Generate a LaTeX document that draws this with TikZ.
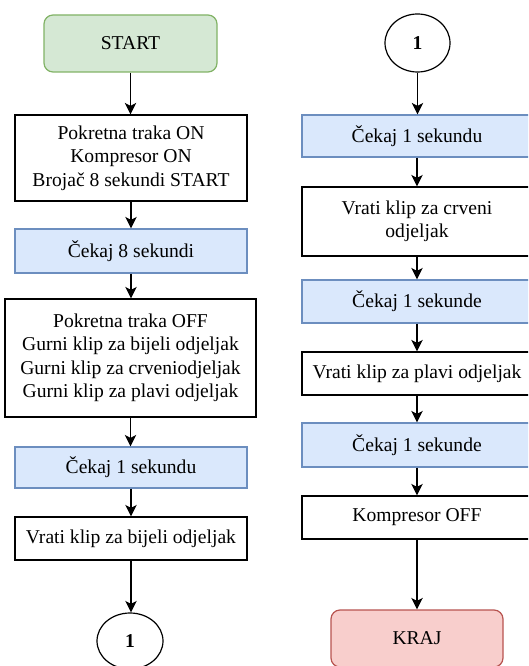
\documentclass[tikz,border=0pt]{standalone}
\usepackage{fontspec}
\setmainfont{Liberation Serif}
\usetikzlibrary{arrows.meta,shapes.geometric}
\definecolor{gfill}{HTML}{D5E8D4}\definecolor{gline}{HTML}{82B366}
\definecolor{bfill}{HTML}{DAE8FC}\definecolor{bline}{HTML}{6C8EBF}
\definecolor{rfill}{HTML}{F8CECC}\definecolor{rline}{HTML}{B85450}
\begin{document}
\begin{tikzpicture}[x=1pt,y=-1pt,
  every node/.style={font=\fontsize{19.6}{23.5}\selectfont, align=center, inner sep=0pt},
  proc/.style={draw=black, line width=1.2pt, fill=white, minimum width=#1, rectangle},
  proc/.default=232pt,
  waitbox/.style={draw=bline, line width=1.2pt, fill=bfill, minimum width=#1, rectangle},
  waitbox/.default=232pt,
  term/.style={rounded corners=9pt, line width=1.2pt, minimum width=173pt, minimum height=57pt},
  conn/.style={ellipse, draw=black, line width=1.2pt, fill=white, minimum width=66pt, minimum height=56pt, font=\fontsize{19.6}{23.5}\selectfont\bfseries},
  flow/.style={line width=1.3pt, -{Stealth[length=11.5pt,width=11.5pt,inset=3pt]}}]
\clip (0,0) rectangle (528,666);
\fill[white] (0,0) rectangle (528,666);

% left column
\node[term, draw=gline, fill=gfill] (start) at (130.5,43.5) {START};
\node[proc, minimum height=86pt] (b1) at (131,158) {Pokretna traka ON\\Kompresor ON\\Brojač 8 sekundi START};
\node[waitbox, minimum height=44pt] (w8) at (131,251) {Čekaj 8 sekundi};
\node[proc=251pt, minimum height=118pt] (b3) at (130.5,358) {Pokretna traka OFF\\Gurni klip za bijeli odjeljak\\Gurni klip za crveniodjeljak\\Gurni klip za plavi odjeljak};
\node[waitbox, minimum height=41pt] (w1a) at (131,467.5) {Čekaj 1 sekundu};
\node[proc, minimum height=43pt] (vb) at (131,538.5) {Vrati klip za bijeli odjeljak};
\node[conn] (c1a) at (130,641) {1};

% right column
\node[conn, minimum height=58pt, minimum width=65pt] (c1b) at (417.5,43) {1};
\node[waitbox=230pt, minimum height=42pt] (w1b) at (417,136) {Čekaj 1 sekundu};
\node[proc=230pt, minimum height=69pt] (vc) at (417,221.5) {Vrati klip za crveni\\odjeljak};
\node[waitbox=230pt, minimum height=43pt] (w1c) at (417,301.5) {Čekaj 1 sekunde};
\node[proc=230pt, minimum height=43pt] (vp) at (417,373.5) {Vrati klip za plavi odjeljak};
\node[waitbox=230pt, minimum height=44pt] (w1d) at (417,445) {Čekaj 1 sekunde};
\node[proc=230pt, minimum height=43pt] (ko) at (417,517.5) {Kompresor OFF};
\node[term, draw=rline, fill=rfill, minimum width=172pt] (kraj) at (417,638.5) {KRAJ};

% connectors
\draw[flow] (start.south) -- (start.south |- b1.north);
\draw[flow] (b1.south) -- (b1.south |- w8.north);
\draw[flow] (w8.south) -- (w8.south |- b3.north);
\draw[flow] (b3.south) -- (b3.south |- w1a.north);
\draw[flow] (w1a.south) -- (w1a.south |- vb.north);
\draw[flow] (vb.south) -- (vb.south |- c1a.north);
\draw[flow] (c1b.south) -- (c1b.south |- w1b.north);
\draw[flow] (w1b.south) -- (w1b.south |- vc.north);
\draw[flow] (vc.south) -- (vc.south |- w1c.north);
\draw[flow] (w1c.south) -- (w1c.south |- vp.north);
\draw[flow] (vp.south) -- (vp.south |- w1d.north);
\draw[flow] (w1d.south) -- (w1d.south |- ko.north);
\draw[flow] (ko.south) -- (ko.south |- kraj.north);
\end{tikzpicture}
\end{document}
